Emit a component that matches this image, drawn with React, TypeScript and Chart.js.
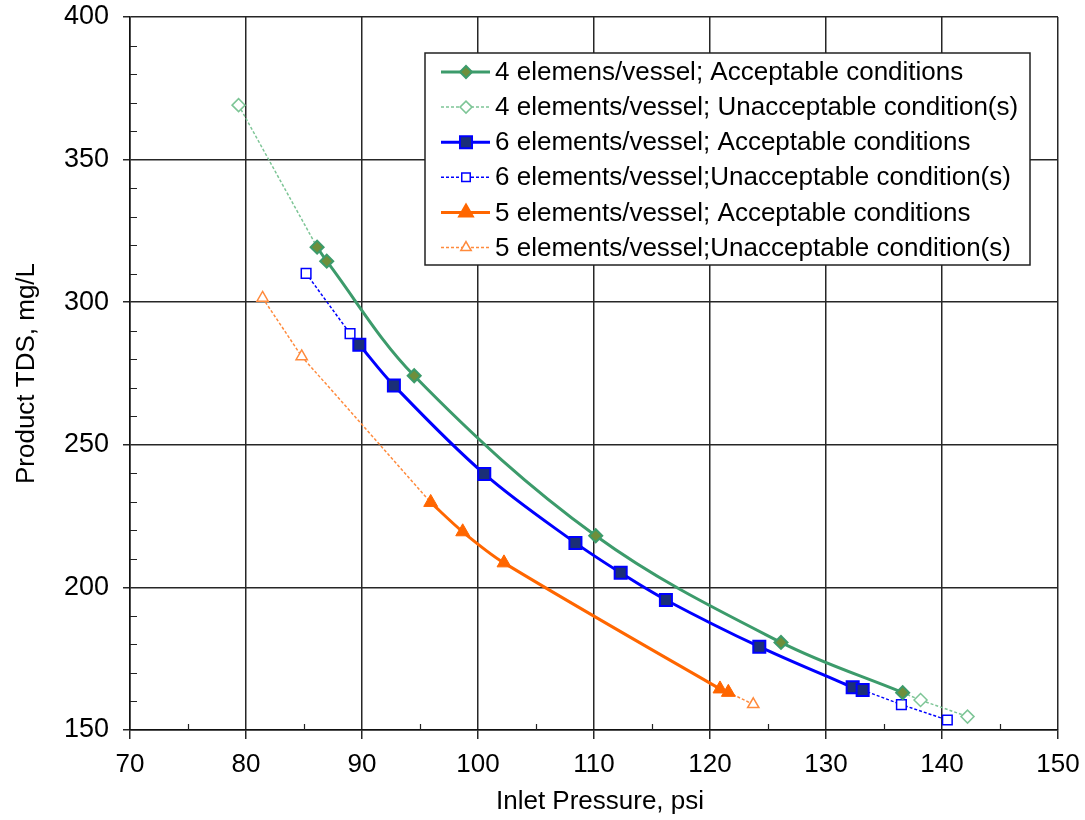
import React, { useEffect, useRef } from "react";
import { Chart, registerables } from "chart.js";
import { drawPoint } from "chart.js/helpers";

Chart.register(...registerables);

// ---- data (Inlet Pressure psi, Product TDS mg/L) ----
const acc4X = [86.13, 86.96, 94.5, 110.15, 126.12, 136.61];
const acc4Y = [319.3, 314.4, 274.2, 218.1, 180.7, 163.1];
const unacc4LowX = [79.36];
const unacc4LowY = [369.1];
const unacc4HighX = [138.15, 142.2];
const unacc4HighY = [160.5, 154.7];

const acc6X = [89.77, 92.75, 100.54, 108.4, 112.3, 116.2, 124.25, 132.3, 133.16];
const acc6Y = [285.1, 270.8, 239.8, 215.6, 205.1, 195.6, 179.2, 165.0, 164.0];
const unacc6LowX = [85.18, 88.97];
const unacc6LowY = [310.1, 289.0];
const unacc6HighX = [136.5, 140.46];
const unacc6HighY = [158.9, 153.5];

const acc5X = [95.92, 98.68, 102.24, 120.86, 121.58];
const acc5Y = [229.8, 219.5, 208.6, 164.4, 163.2];
const unacc5LowX = [81.43, 84.8];
const unacc5LowY = [301.5, 281.0];
const unacc5HighX = [123.73];
const unacc5HighY = [159.0];

const legendLabels = [
  "4 elemens/vessel; Acceptable conditions",
  "4 elements/vessel; Unacceptable condition(s)",
  "6 elements/vessel; Acceptable conditions",
  "6 elements/vessel;Unacceptable condition(s)",
  "5 elements/vessel; Acceptable conditions",
  "5 elements/vessel;Unacceptable condition(s)",
];

const xTitle = "Inlet Pressure, psi";
const yTitle = "Product TDS, mg/L";
const xRange = [70, 150];
const xStep = 10;
const yRange = [150, 400];
const yStep = 50;

const FONT = "'Liberation Sans', Arial, sans-serif";
const GREEN = "#3c9b6b";
const GREEN_FILL = "#6e8f3b";
const GREEN_LIGHT = "#7dc596";
const BLUE = "#0000ff";
const BLUE_FILL = "#1b2f78";
const ORANGE = "#ff6600";
const ORANGE_LIGHT = "#ff8a3c";

const zip = (xs: number[], ys: number[]) => xs.map((x, i) => ({ x, y: ys[i] }));

// Unacceptable series: own points plus connection to the acceptable end points
function buildUnacc(lowX: number[], lowY: number[], highX: number[], highY: number[], accX: number[], accY: number[]) {
  const data: any[] = [];
  const radius: number[] = [];
  lowX.forEach((x, i) => { data.push({ x, y: lowY[i] }); radius.push(1); });
  data.push({ x: accX[0], y: accY[0] }); radius.push(0);
  data.push({ x: accX[0], y: null }); radius.push(0);
  data.push({ x: accX[accX.length - 1], y: accY[accY.length - 1] }); radius.push(0);
  highX.forEach((x, i) => { data.push({ x, y: highY[i] }); radius.push(1); });
  return { data, radius };
}

const legendStyles = [
  { color: GREEN, width: 3, dash: [] as number[], style: "rectRot", r: 6, fill: GREEN_FILL, border: GREEN },
  { color: GREEN_LIGHT, width: 1.5, dash: [3, 2], style: "rectRot", r: 6, fill: "#ffffff", border: GREEN_LIGHT },
  { color: BLUE, width: 3, dash: [], style: "rect", r: 8.5, fill: BLUE_FILL, border: BLUE },
  { color: BLUE, width: 1.5, dash: [3, 2], style: "rect", r: 6, fill: "#ffffff", border: BLUE },
  { color: ORANGE, width: 3, dash: [], style: "triangle", r: 8, fill: ORANGE, border: ORANGE },
  { color: ORANGE_LIGHT, width: 1.5, dash: [3, 2], style: "triangle", r: 6, fill: "#ffffff", border: ORANGE_LIGHT },
];

const customLegend = {
  id: "customLegend",
  afterDraw(chart: any) {
    const ctx = chart.ctx as CanvasRenderingContext2D;
    const left = 425, top = 53, right = 1030, bottom = 265;
    ctx.save();
    ctx.fillStyle = "#ffffff";
    ctx.fillRect(left, top, right - left, bottom - top);
    ctx.strokeStyle = "#222";
    ctx.lineWidth = 1.5;
    ctx.strokeRect(left, top, right - left, bottom - top);
    legendLabels.forEach((label, i) => {
      const y = 72 + i * 35.1;
      const s = legendStyles[i];
      ctx.beginPath();
      ctx.setLineDash(s.dash);
      ctx.strokeStyle = s.color;
      ctx.lineWidth = s.width;
      ctx.moveTo(441, y);
      ctx.lineTo(490, y);
      ctx.stroke();
      ctx.setLineDash([]);
      ctx.fillStyle = s.fill;
      ctx.strokeStyle = s.border;
      ctx.lineWidth = s.width === 3 ? 2 : 1.5;
      drawPoint(ctx, { pointStyle: s.style, radius: s.r, rotation: 0, borderWidth: ctx.lineWidth } as any, 466, y);
      ctx.fillStyle = "#000";
      ctx.font = "26px " + FONT;
      ctx.textBaseline = "middle";
      ctx.textAlign = "left";
      ctx.fillText(label, 495, y + 1);
    });
    ctx.restore();
  },
};

const axisTitles = {
  id: "axisTitles",
  afterDraw(chart: any) {
    const ctx = chart.ctx as CanvasRenderingContext2D;
    const area = chart.chartArea;
    ctx.save();
    ctx.fillStyle = "#000";
    ctx.font = "26px " + FONT;
    ctx.textAlign = "center";
    ctx.textBaseline = "middle";
    ctx.fillText(xTitle, (area.left + area.right) / 2 + 6, 802);
    ctx.translate(27, (area.top + area.bottom) / 2);
    ctx.rotate(-Math.PI / 2);
    ctx.fillText(yTitle, 0, 0);
    ctx.restore();
  },
};

const minorTicks = {
  id: "minorTicks",
  afterDatasetsDraw(chart: any) {
    const ctx = chart.ctx as CanvasRenderingContext2D;
    const xs = chart.scales.x;
    const ys = chart.scales.y;
    const area = chart.chartArea;
    ctx.save();
    ctx.strokeStyle = "#222";
    ctx.lineWidth = 1.2;
    ctx.beginPath();
    for (let v = xRange[0] + 5; v < xRange[1]; v += 10) {
      const px = Math.round(xs.getPixelForValue(v)) + 0.5;
      ctx.moveTo(px, area.bottom);
      ctx.lineTo(px, area.bottom - 6);
    }
    for (let v = yRange[0] + 10; v < yRange[1]; v += 10) {
      if (v % 50 === 0) continue;
      const py = Math.round(ys.getPixelForValue(v)) + 0.5;
      ctx.moveTo(area.left, py);
      ctx.lineTo(area.left + 7, py);
    }
    ctx.stroke();
    ctx.restore();
  },
};

export default function App() {
  const ref = useRef<HTMLCanvasElement | null>(null);
  useEffect(() => {
    document.body.style.margin = "0";
    const u4 = buildUnacc(unacc4LowX, unacc4LowY, unacc4HighX, unacc4HighY, acc4X, acc4Y);
    const u6 = buildUnacc(unacc6LowX, unacc6LowY, unacc6HighX, unacc6HighY, acc6X, acc6Y);
    const u5 = buildUnacc(unacc5LowX, unacc5LowY, unacc5HighX, unacc5HighY, acc5X, acc5Y);
    const chart = new Chart(ref.current as HTMLCanvasElement, {
      type: "scatter",
      data: {
        datasets: [
          {
            label: legendLabels[0], data: zip(acc4X, acc4Y), showLine: true, tension: 0.35,
            borderColor: GREEN, borderWidth: 3, pointStyle: "rectRot", pointRadius: 6.5,
            pointBackgroundColor: GREEN_FILL, pointBorderColor: GREEN, pointBorderWidth: 2, order: 1,
          },
          {
            label: legendLabels[2], data: zip(acc6X, acc6Y), showLine: true, tension: 0.35,
            borderColor: BLUE, borderWidth: 3, pointStyle: "rect", pointRadius: 8.5,
            pointBackgroundColor: BLUE_FILL, pointBorderColor: BLUE, pointBorderWidth: 2, order: 2,
          },
          {
            label: legendLabels[4], data: zip(acc5X, acc5Y), showLine: true, tension: 0.3,
            borderColor: ORANGE, borderWidth: 3, pointStyle: "triangle", pointRadius: 8,
            pointBackgroundColor: ORANGE, pointBorderColor: ORANGE, pointBorderWidth: 1, order: 3,
          },
          {
            label: legendLabels[1], data: u4.data, showLine: true, tension: 0, spanGaps: false,
            borderColor: GREEN_LIGHT, borderWidth: 1.5, borderDash: [3, 2], pointStyle: "rectRot",
            pointRadius: u4.radius.map((r) => r * 6.5), pointBackgroundColor: "#ffffff",
            pointBorderColor: GREEN_LIGHT, pointBorderWidth: 1.5, order: 4,
          },
          {
            label: legendLabels[3], data: u6.data, showLine: true, tension: 0, spanGaps: false,
            borderColor: BLUE, borderWidth: 1.5, borderDash: [3, 2], pointStyle: "rect",
            pointRadius: u6.radius.map((r) => r * 6.8), pointBackgroundColor: "#ffffff",
            pointBorderColor: BLUE, pointBorderWidth: 1.5, order: 5,
          },
          {
            label: legendLabels[5], data: u5.data, showLine: true, tension: 0, spanGaps: false,
            borderColor: ORANGE_LIGHT, borderWidth: 1.5, borderDash: [3, 2], pointStyle: "triangle",
            pointRadius: u5.radius.map((r) => r * 6.5), pointBackgroundColor: "#ffffff",
            pointBorderColor: ORANGE_LIGHT, pointBorderWidth: 1.5, order: 6,
          },
        ] as any,
      },
      options: {
        animation: false,
        responsive: true,
        maintainAspectRatio: false,
        layout: { padding: { top: 17, right: 27, left: 0, bottom: 0 } },
        plugins: { legend: { display: false }, tooltip: { enabled: false } },
        scales: {
          x: {
            type: "linear", min: xRange[0], max: xRange[1],
            ticks: { stepSize: xStep, color: "#000", padding: 10, font: { family: FONT, size: 26 } },
            grid: { color: "#262626", lineWidth: 1.5, tickLength: 9, tickColor: "#262626" },
            border: { color: "#111", width: 1.5 },
            title: { display: false },
            afterFit: (s: any) => { s.height = 90; s.paddingLeft = 0; s.paddingRight = 0; },
          },
          y: {
            type: "linear", min: yRange[0], max: yRange[1],
            ticks: { stepSize: yStep, color: "#000", padding: 14, font: { family: FONT, size: 27 } },
            grid: { color: "#262626", lineWidth: 1.5, tickLength: 7, tickColor: "#262626" },
            border: { color: "#111", width: 1.5 },
            title: { display: false },
            afterFit: (s: any) => { s.width = 130; s.paddingTop = 0; s.paddingBottom = 0; },
          },
        },
      },
      plugins: [minorTicks, axisTitles, customLegend],
    });
    return () => chart.destroy();
  }, []);
  return (
    <div style={{ position: "fixed", left: 0, top: 0, width: 1085, height: 820, background: "#fff" }}>
      <canvas ref={ref} />
    </div>
  );
}
